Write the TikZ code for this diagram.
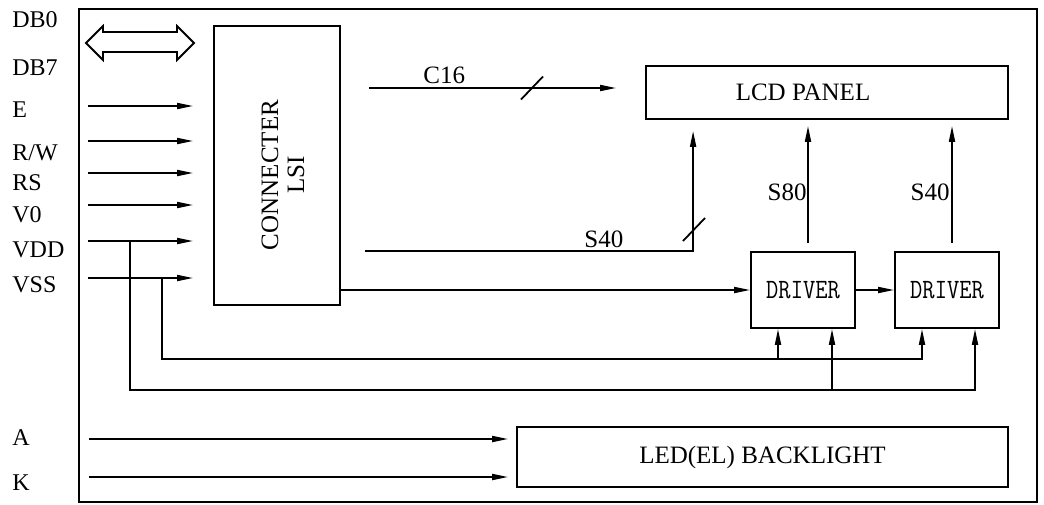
\documentclass[tikz,border=0pt]{standalone}
\usepackage{fontspec}
\setmainfont{Liberation Serif}
\usetikzlibrary{arrows.meta,calc}
\newcommand\drvname{\scalebox{0.85}[1]{DRIVER}}
\tikzset{
  blk/.style={
    rectangle,
    draw=black,
    line width=0.9pt,
    inner sep=0pt,
    font=\fontsize{12.5}{15}\selectfont
  },
  drvbox/.style={
    blk,
    minimum width=52pt,
    minimum height=38pt,
    font=\ttfamily\fontsize{14}{16}\selectfont
  },
  lbl/.style={inner sep=0pt, font=\fontsize{12.5}{15}\selectfont},
  pinlbl/.style={lbl, anchor=base west, font=\fontsize{12}{14}\selectfont},
  wire/.style={line width=0.9pt},
  sig/.style={-{Triangle[length=8pt,width=3pt]}, line width=0.9pt},
  busmark/.pic={\draw[wire] (-11,11.5) -- (11,-11.5);}
}
\begin{document}
\begin{tikzpicture}[x=0.5pt,y=-0.5pt]
\useasboundingbox (0,0) rectangle (1044,504);
\draw[wire] (79,9) rectangle (1037,502);

\node[blk, minimum width=63pt, minimum height=139.5pt] (lsi) at (277,165.5) {};
\node[lbl, rotate=90, align=center] (lsitxt) at (283,175) {CONNECTER\\[-2pt]LSI};
\node[blk, minimum width=181pt, minimum height=26.5pt] (lcd) at (827,92.5) {LCD PANEL\hspace*{24pt}};
\node[drvbox] (d1) at (803,290) {\drvname};
\node[drvbox] (d2) at (947,290) {\drvname};
\node[blk, minimum width=245.5pt, minimum height=30pt] (led) at (762.5,457) {LED(EL) BACKLIGHT};

\node[pinlbl] (db0) at (12,27) {DB0};
\node[pinlbl] (db7) at (12,75) {DB7};
\node[pinlbl] (pe) at (12,117) {E};
\node[pinlbl] (prw) at (12,160) {R/W};
\node[pinlbl] (prs) at (12,190) {RS};
\node[pinlbl] (pv0) at (12,222) {V0};
\node[pinlbl] (pvdd) at (12,257) {VDD};
\node[pinlbl] (pvss) at (12,292) {VSS};
\node[pinlbl] (pa) at (12,445) {A};
\node[pinlbl] (pk) at (12,490) {K};

\draw[wire] (86,43) -- (103,26) -- (103,32) -- (177,32) -- (177,26) -- (194,43)
  -- (177,60) -- (177,52) -- (103,52) -- (103,60) -- cycle;

\coordinate (iE) at (88,106);
\coordinate (iRW) at (88,141);
\coordinate (iRS) at (88,173);
\coordinate (iV0) at (88,205);
\coordinate (iVDD) at (88,241);
\coordinate (iVSS) at (88,278);
\foreach \c in {iE,iRW,iRS,iV0,iVDD,iVSS}
  \draw[sig, shorten >=10pt] (\c) -- (\c -| lsi.west);

\coordinate (c16) at (369,88);
\draw[sig, shorten >=14.5pt] (c16) -- (c16 -| lcd.west);
\pic at (532,88) {busmark};
\node[lbl, anchor=base west] (c16lbl) at (423,83) {C16};

\coordinate (s40) at (365,251);
\draw[sig, shorten >=5.5pt] (s40) -| ([xshift=24pt]lcd.south west);
\pic at (694,229.5) {busmark};
\node[lbl, anchor=base west] (s40lbl) at (584,247) {S40};

\draw[sig] (lsi.east |- d1.west) -- (d1.west);
\draw[sig] (d1) -- (d2);

\draw[sig, shorten <=4pt, shorten >=3pt] ([xshift=2.5pt]d1.north) -- ([xshift=2.5pt]d1.north |- lcd.south);
\draw[sig, shorten <=4pt, shorten >=3pt] ([xshift=2.5pt]d2.north) -- ([xshift=2.5pt]d2.north |- lcd.south);
\node[lbl, anchor=base east] (s80lbl) at (807,200) {S80};
\node[lbl, anchor=base east] (s40rlbl) at (950,200) {S40};

\coordinate (d1a) at ([xshift=-12.5pt]d1.south);
\coordinate (d1b) at ([xshift=14.5pt]d1.south);
\coordinate (d2a) at ([xshift=-12.5pt]d2.south);
\coordinate (d2b) at ([xshift=14pt]d2.south);
\coordinate (bus1) at (162,359);
\coordinate (bus2) at (130,390);
\draw[sig] (iVSS -| bus1) -- (bus1) -| (d2a);
\draw[sig] (bus1 -| d1a) -- (d1a);
\draw[sig] (iVDD -| bus2) -- (bus2) -| (d2b);
\draw[sig] (bus2 -| d1b) -- (d1b);

\coordinate (iA) at (89,439);
\coordinate (iK) at (89,477);
\draw[sig, shorten >=4pt] (iA) -- (iA -| led.west);
\draw[sig, shorten >=4pt] (iK) -- (iK -| led.west);
\end{tikzpicture}
\end{document}
